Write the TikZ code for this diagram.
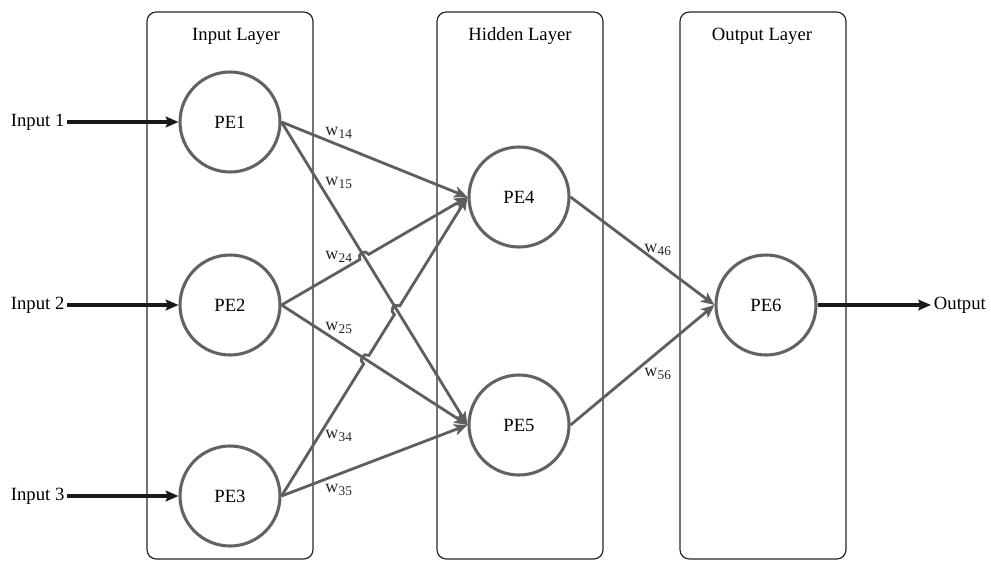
\documentclass[tikz,border=0pt]{standalone}
\usepackage{fontspec}
\setmainfont{Liberation Serif}
\usetikzlibrary{arrows.meta,calc,intersections}
\definecolor{pegray}{HTML}{626262}
\definecolor{edgegray}{HTML}{5E5E5E}
\newcommand{\wsub}[1]{w\kern0.3pt\raisebox{-2pt}{\fontsize{10}{10}\selectfont #1}}
\def\hop{3.8pt}
\tikzset{
  pe/.style={circle, draw=pegray, line width=2.3pt, minimum size=75pt, inner sep=0pt,
    fill=white, font=\fontsize{14}{16}\selectfont},
  layerbox/.style={draw=black!85, line width=0.9pt, rounded corners=7pt,
    minimum width=124.5pt, minimum height=410.25pt, inner sep=0pt},
  edge/.style={draw=edgegray, line width=2.1pt, -{Stealth[length=10pt,width=8.5pt,inset=2.5pt]}},
  inarrow/.style={draw=black!90, line width=2.5pt, -{Stealth[length=9.5pt,width=8pt,inset=1.5pt]}},
  lbl/.style={font=\fontsize{14}{16}\selectfont, inner sep=2pt},
  wlab/.style={anchor=west, inner sep=0pt, font=\fontsize{13.5}{15}\selectfont, text=black!85},
}
\begin{document}
\begin{tikzpicture}[x=0.75pt, y=-0.75pt]
\useasboundingbox (0,0) rectangle (991,563);
% layer frames
\node[layerbox] (Lin)  at (230,285.5) {};
\node[layerbox] (Lhid) at (520,285.5) {};
\node[layerbox] (Lout) at (763,285.5) {};
\node[lbl] (tin)  at (236,36) {Input Layer};
\node[lbl] (thid) at (520,36) {Hidden Layer};
\node[lbl] (tout) at (762,36) {Output Layer};
% processing elements
\node[pe] (PE1) at (230,122) {PE1};
\node[pe] (PE2) at (230,305) {PE2};
\node[pe] (PE3) at (230,496) {PE3};
\node[pe] (PE4) at (519,197) {PE4};
\node[pe] (PE5) at (519,425) {PE5};
\node[pe] (PE6) at (766,305) {PE6};
% inputs / output
\node[lbl, anchor=west] (in1) at (8,122) {Input 1};
\node[lbl, anchor=west] (in2) at (8,305) {Input 2};
\node[lbl, anchor=west] (in3) at (8,496) {Input 3};
\node[lbl, anchor=west] (out) at (931,305) {Output};
\draw[inarrow] (in1) -- (PE1.west);
\draw[inarrow] (in2) -- (PE2.west);
\draw[inarrow] (in3) -- (PE3.west);
\draw[inarrow] (PE6.east) -- (out.west);
% straight edges
\draw[edge] (PE1.east) -- (PE4.west);
\draw[edge, name path=p15] (PE1.east) -- (PE5.west);
\draw[edge, name path=p25] (PE2.east) -- (PE5.west);
\draw[edge] (PE3.east) -- (PE5.west);
\draw[edge] (PE4.east) -- (PE6.west);
\draw[edge] (PE5.east) -- (PE6.west);
% edges with line jumps
\path[name path=p24] (PE2.east) -- (PE4.west);
\path[name path=p34] (PE3.east) -- (PE4.west);
\path[name intersections={of=p15 and p24, by=X1}];
\path[name intersections={of=p15 and p34, by=X2}];
\path[name intersections={of=p25 and p34, by=X3}];
\draw[edge] let \p1=($(PE4.west)-(PE2.east)$), \n1={atan2(\y1,\x1)} in
  (PE2.east) -- ($(X1)!\hop!(PE2.east)$)
  arc[start angle=\n1+180, end angle=\n1, radius=\hop] -- (PE4.west);
\draw[edge] let \p1=($(PE4.west)-(PE3.east)$), \n1={atan2(\y1,\x1)} in
  (PE3.east) -- ($(X3)!\hop!(PE3.east)$)
  arc[start angle=\n1+180, end angle=\n1, radius=\hop]
  -- ($(X2)!\hop!(PE3.east)$)
  arc[start angle=\n1+180, end angle=\n1, radius=\hop] -- (PE4.west);
% weights
\node[wlab] (w14) at (325,133) {\wsub{14}};
\node[wlab] (w15) at (325,183) {\wsub{15}};
\node[wlab] (w24) at (325,257) {\wsub{24}};
\node[wlab] (w25) at (325,328) {\wsub{25}};
\node[wlab] (w34) at (325,436) {\wsub{34}};
\node[wlab] (w35) at (325,490) {\wsub{35}};
\node[wlab] (w46) at (644,250) {\wsub{46}};
\node[wlab] (w56) at (644,374) {\wsub{56}};
\end{tikzpicture}
\end{document}
